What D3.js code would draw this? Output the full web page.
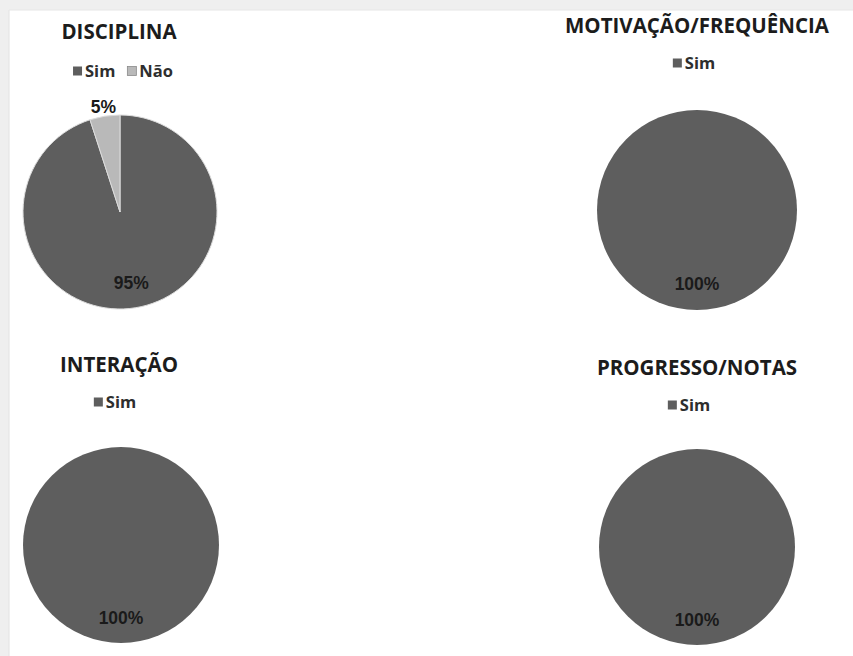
<!DOCTYPE html>
<html>
<head>
<meta charset="utf-8">
<script src="https://cdn.jsdelivr.net/npm/d3@7/dist/d3.min.js"></script>
<style>
  html, body { margin: 0; padding: 0; background: #ffffff; }
  svg { display: block; }
</style>
</head>
<body>
<svg id="chart" width="853" height="656"></svg>
<script>
// Survey answers, one pie per topic
const titles = ["DISCIPLINA", "MOTIVAÇÃO/FREQUÊNCIA", "INTERAÇÃO", "PROGRESSO/NOTAS"];
const categories = [["Sim", "Não"], ["Sim"], ["Sim"], ["Sim"]];
const values = [[95, 5], [100], [100], [100]];

// Where each panel sits on the page
const panels = [
  { cx: 120, cy: 212, r: 97, titleX: 119, titleY: 39, legendX: 123, legendY: 71 },
  { cx: 697, cy: 210, r: 100, titleX: 697, titleY: 33, legendX: 694, legendY: 63 },
  { cx: 121, cy: 545, r: 98, titleX: 119, titleY: 372, legendX: 115, legendY: 402 },
  { cx: 697, cy: 547, r: 98, titleX: 697, titleY: 375, legendX: 689, legendY: 405 }
];

const svg = d3.select("#chart");
const W = 853, H = 656;

// Window frame: light grey strips along the top and left edges
svg.append("rect").attr("x", 0).attr("y", 0).attr("width", W).attr("height", H).attr("fill", "#efefef");
svg.append("rect").attr("x", 9).attr("y", 10).attr("width", W - 9).attr("height", H - 10).attr("fill", "#ffffff");
svg.append("line").attr("x1", 9).attr("x2", 9).attr("y1", 10).attr("y2", H)
  .attr("stroke", "#e2e2e2").attr("stroke-width", 1);
svg.append("line").attr("x1", 9).attr("x2", W).attr("y1", 10).attr("y2", 10)
  .attr("stroke", "#e6e6e6").attr("stroke-width", 1);

const color = d3.scaleOrdinal().domain(["Sim", "Não"]).range(["#5e5e5e", "#b9b9b9"]);
const pie = d3.pie().sort(null).value(d => d.value);

titles.forEach((title, i) => {
  const p = panels[i];
  const data = categories[i].map((c, j) => ({ category: c, value: values[i][j] }));
  const total = d3.sum(data, d => d.value);
  const g = svg.append("g");

  // Title
  g.append("text")
    .attr("x", p.titleX).attr("y", p.titleY)
    .attr("text-anchor", "middle")
    .attr("font-family", "'Open Sans', sans-serif")
    .attr("font-weight", 700)
    .attr("font-size", 20.5)
    .attr("fill", "#1c1c1c")
    .text(title);

  // Legend, centred under the title
  const leg = g.append("g");
  let x = 0;
  data.forEach((d) => {
    const it = leg.append("g").attr("transform", `translate(${x},0)`);
    it.append("rect")
      .attr("x", 0).attr("y", -4.5).attr("width", 9).attr("height", 9)
      .attr("fill", color(d.category))
      .attr("stroke", d.category === "Não" ? "#8a8a8a" : "none")
      .attr("stroke-width", 0.8);
    const t = it.append("text")
      .attr("x", 12).attr("y", 6)
      .attr("font-family", "'Open Sans', sans-serif")
      .attr("font-weight", 700)
      .attr("font-size", 16.5)
      .attr("fill", "#2e2e2e")
      .text(d.category);
    x += 12 + t.node().getComputedTextLength() + 12;
  });
  const legW = x - 12;
  leg.attr("transform", `translate(${p.legendX - legW / 2},${p.legendY})`);

  // Pie
  const arc = d3.arc().innerRadius(0).outerRadius(p.r);
  const arcs = pie(data);
  const pg = g.append("g").attr("transform", `translate(${p.cx},${p.cy})`);
  pg.selectAll("path")
    .data(arcs)
    .join("path")
    .attr("d", arc)
    .attr("fill", d => color(d.data.category))
    .attr("stroke", arcs.length > 1 ? "#dcdcdc" : "none")
    .attr("stroke-width", 1);

  // Value labels: large slices inside, small slices just outside the rim
  const inner = d3.arc().innerRadius(p.r * 0.74).outerRadius(p.r * 0.74);
  const outer = d3.arc().innerRadius(p.r * 1.1).outerRadius(p.r * 1.1);
  pg.selectAll("text.value")
    .data(arcs)
    .join("text")
    .attr("class", "value")
    .attr("transform", d => {
      const share = d.data.value / total;
      const c = share < 0.1 ? outer.centroid(d) : inner.centroid(d);
      return `translate(${c[0]},${c[1]})`;
    })
    .attr("text-anchor", "middle")
    .attr("dy", "0.36em")
    .attr("font-family", "'Liberation Sans', Arial, sans-serif")
    .attr("font-weight", 700)
    .attr("font-size", 17.5)
    .attr("fill", "#1a1a1a")
    .text(d => d3.format(".0%")(d.data.value / total));
});
</script>
</body>
</html>
